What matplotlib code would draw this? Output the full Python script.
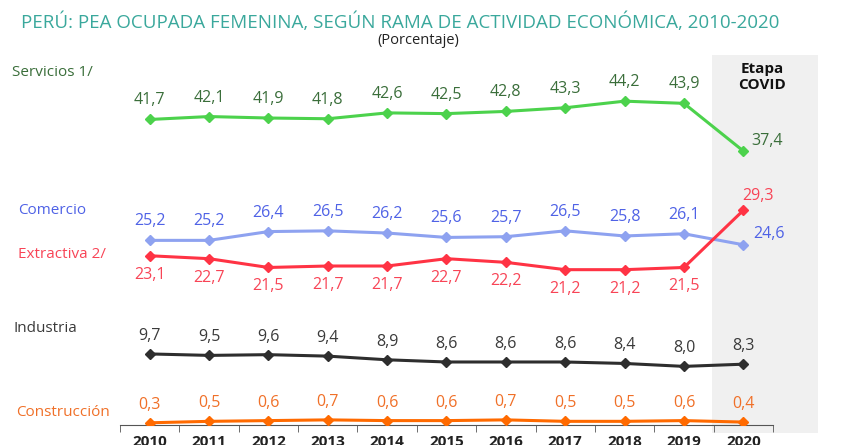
import matplotlib.pyplot as plt
from matplotlib.patches import Rectangle

plt.rcParams['font.family'] = ['Open Sans', 'DejaVu Sans']

years = [str(y) for y in range(2010, 2021)]
servicios = [41.7, 42.1, 41.9, 41.8, 42.6, 42.5, 42.8, 43.3, 44.2, 43.9, 37.4]
comercio = [25.2, 25.2, 26.4, 26.5, 26.2, 25.6, 25.7, 26.5, 25.8, 26.1, 24.6]
extractiva = [23.1, 22.7, 21.5, 21.7, 21.7, 22.7, 22.2, 21.2, 21.2, 21.5, 29.3]
industria = [9.7, 9.5, 9.6, 9.4, 8.9, 8.6, 8.6, 8.6, 8.4, 8.0, 8.3]
construccion = [0.3, 0.5, 0.6, 0.7, 0.6, 0.6, 0.7, 0.5, 0.5, 0.6, 0.4]

# (name, values, line colour, text colour, label offset px, last label offset px, name x/y px)
series = [
    ("Servicios 1/", servicios, "#4CD24C", "#3A6E3A", 19, (24, 10), (12, 72)),
    ("Comercio", comercio, "#8EA2F0", "#4F62E6", 19, (26, 11), (18, 210)),
    ("Extractiva 2/", extractiva, "#FF3344", "#F84456", -19, (15, 14), (18, 254)),
    ("Industria", industria, "#2E2E2E", "#3A3A3A", 18, (0, 18), (14, 328)),
    ("Construcción", construccion, "#FF6A00", "#F07028", 18, (0, 18), (16, 412)),
]

W, H = 854, 445
fig = plt.figure(figsize=(W / 100, H / 100), dpi=100)
ax = fig.add_axes([120 / W, (H - 425) / H, (773 - 120) / W, (425 - 55) / H])
ax.patch.set_alpha(0)

# Etapa COVID shading
fig.patches.append(Rectangle((712 / W, (H - 433) / H), (818 - 712) / W, (433 - 55) / H,
                             transform=fig.transFigure, facecolor="#F0F0F0",
                             edgecolor="none", zorder=-5))

x = list(range(len(years)))
px2pt = 0.72
for name, vals, lc, tc, off, last_off, (nx, ny) in series:
    ax.plot(x, vals, color=lc, lw=2.2, marker="D", ms=5.5, zorder=3)
    for i, v in enumerate(vals):
        if i == len(vals) - 1:
            dx, dy = last_off
        else:
            dx, dy = 0, off
        ax.annotate(f"{v:.1f}".replace(".", ","), (i, v),
                    xytext=(dx * px2pt, dy * px2pt), textcoords="offset points",
                    ha="center", va="center", fontsize=11.5, color=tc)
    fig.text(nx / W, (H - ny) / H, name,
             fontsize=11, color=tc, ha="left", va="center")

ax.set_xlim(-0.5, len(years) - 0.5)
ax.set_ylim(0, 50.5)
for s in ["top", "right", "left"]:
    ax.spines[s].set_visible(False)
ax.spines["bottom"].set_color("#555555")
ax.set_yticks([])
ax.set_xticks(x)
ax.set_xticklabels(years, fontsize=11, fontweight="bold", color="#222222")
ax.tick_params(axis="x", which="major", length=0, pad=7)
ax.set_xticks([i - 0.5 for i in range(len(years) + 1)], minor=True)
ax.tick_params(axis="x", which="minor", length=5, color="#555555")

fig.text(400 / W, (H - 22) / H, "PERÚ: PEA OCUPADA FEMENINA, SEGÚN RAMA DE ACTIVIDAD ECONÓMICA, 2010-2020",
         fontsize=13.5, color="#3AA89C", ha="center", va="center")
fig.text(418 / W, (H - 41) / H, "(Porcentaje)", fontsize=10.5, color="#222222",
         ha="center", va="center")
fig.text(762 / W, (H - 77) / H, "Etapa\nCOVID", fontsize=11, fontweight="bold",
         color="#111111", ha="center", va="center", linespacing=1.1)

fig.savefig("out.png", dpi=100)
